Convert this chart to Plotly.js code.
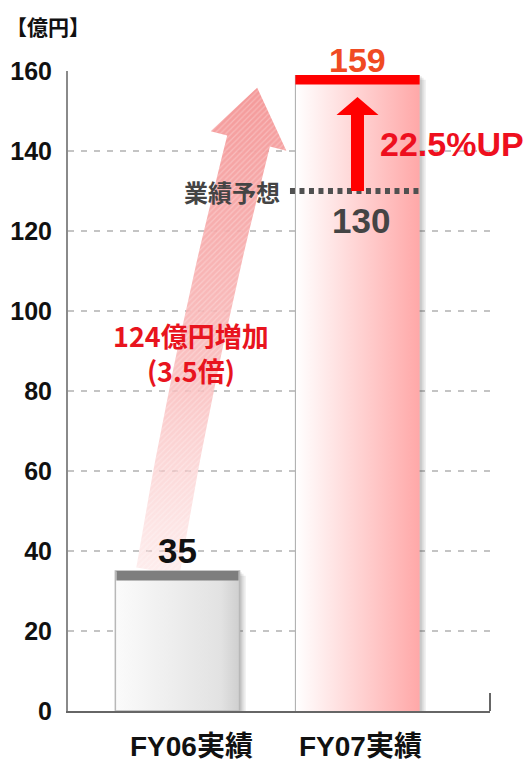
<!DOCTYPE html>
<html>
<head>
<meta charset="utf-8">
<script src="https://cdn.plot.ly/plotly-3.0.1.min.js"></script>
<style>
  html, body { margin: 0; padding: 0; background: #ffffff; }
  #chart { width: 528px; height: 763px; }
</style>
</head>
<body>
<div id="chart"></div>
<script>
// ---- data (億円) ----
const categories = ['FY06実績', 'FY07実績'];
const results = [35, 159];
const forecastFY07 = 130;
const yTicks = [0, 20, 40, 60, 80, 100, 120, 140, 160];
const unitLabel = '【億円】';
const forecastLabel = '業績予想';
const growthLabel = '22.5%UP';
const increaseLabel = '124億円増加';
const ratioLabel = '(3.5倍)';

// ---- styling / geometry ----
const NUM_FONT = '"Liberation Sans", Arial, sans-serif';
const JP_FONT = '"Noto Sans CJK JP", "Noto Sans", sans-serif';
const CAT_FONT = '"Liberation Sans", "Noto Sans CJK JP", sans-serif';
const X_RANGE = [-0.608, 1.736];
const Y_RANGE = [0, 160];
const PLOT_W = 422, PLOT_H = 640;
const PX_X = PLOT_W / (X_RANGE[1] - X_RANGE[0]);   // pixels per x unit
const PX_Y = PLOT_H / (Y_RANGE[1] - Y_RANGE[0]);   // pixels per value unit
const BAR_W = 0.69;
const CAP_H = 2.4;

const xs = categories.map((c, i) => i);

function rect(x0, x1, y0, y1) {
  return { x: [x0, x1, x1, x0, x0], y: [y0, y0, y1, y1, y0] };
}
function poly(pts) {
  const p = pts.concat([pts[0]]);
  return { x: p.map(q => q[0]), y: p.map(q => q[1]) };
}
const toPx = p => [p[0] * PX_X, p[1] * PX_Y];
const fromPx = p => [p[0] / PX_X, p[1] / PX_Y];

const traces = [];

// soft drop shadows behind the bars
[[0.034, -1.2, 0.10], [0.022, -0.7, 0.10], [0.012, -0.3, 0.10]].forEach(([dx, dy, a]) => {
  xs.forEach((x, i) => {
    const r = rect(x - BAR_W / 2 + dx, x + BAR_W / 2 + dx, 0, results[i] + dy);
    traces.push({ type: 'scatter', mode: 'lines', x: r.x, y: r.y, fill: 'toself',
      fillcolor: `rgba(60,60,60,${a})`, line: { width: 0 }, hoverinfo: 'skip' });
  });
});

// curved growth arrow from FY06 to FY07
(function () {
  const S = toPx([-0.108, results[0]]);
  const E = toPx([0.395, results[1] - 16.5]);
  const C = toPx([0.09, (results[0] + results[1] - 16.5) / 2]);
  const hw = 22, hh = 39, headLen = 55;
  const left = [], right = [];
  const N = 24;
  let n = [1, 0], t = [0, 1];
  for (let k = 0; k <= N; k++) {
    const s = k / N, u = 1 - s;
    const P = [u * u * S[0] + 2 * u * s * C[0] + s * s * E[0], u * u * S[1] + 2 * u * s * C[1] + s * s * E[1]];
    const d = [2 * u * (C[0] - S[0]) + 2 * s * (E[0] - C[0]), 2 * u * (C[1] - S[1]) + 2 * s * (E[1] - C[1])];
    const L = Math.hypot(d[0], d[1]);
    t = [d[0] / L, d[1] / L];
    n = [t[1], -t[0]];
    left.push([P[0] - hw * n[0], P[1] - hw * n[1]]);
    right.push([P[0] + hw * n[0], P[1] + hw * n[1]]);
  }
  const headL = [E[0] - hh * n[0], E[1] - hh * n[1]];
  const headR = [E[0] + hh * n[0], E[1] + hh * n[1]];
  const tip = [E[0] + headLen * t[0] - 5, E[1] + headLen * t[1]];
  const pts = left.concat([headL, tip, headR]).concat(right.slice().reverse()).map(fromPx);
  const p = poly(pts);
  traces.push({ type: 'scatter', mode: 'lines', x: p.x, y: p.y, fill: 'toself',
    line: { width: 0 }, hoverinfo: 'skip',
    fillgradient: { type: 'vertical', colorscale: [
      [0, 'rgba(252,215,215,0.45)'], [0.4, 'rgba(249,185,185,0.85)'], [1, 'rgba(244,150,150,0.97)']] } });
  traces.push({ type: 'scatter', mode: 'lines', x: p.x, y: p.y, fill: 'toself',
    fillcolor: 'rgba(0,0,0,0)', line: { width: 0 }, hoverinfo: 'skip',
    fillpattern: { shape: '/', fgcolor: 'rgba(255,255,255,0.28)', bgcolor: 'rgba(0,0,0,0)', size: 4, solidity: 0.3 } });
})();

// FY06 bar
(function () {
  const x = xs[0], v = results[0];
  const r = rect(x - BAR_W / 2, x + BAR_W / 2, 0, v);
  traces.push({ type: 'scatter', mode: 'lines', x: r.x, y: r.y, fill: 'toself',
    line: { color: '#b8b8b8', width: 1.5 }, hoverinfo: 'skip',
    fillgradient: { type: 'horizontal', colorscale: [[0, '#fbfbfb'], [0.85, '#e2e2e2'], [1, '#cfcfcf']] } });
  const c = rect(x - BAR_W / 2 + 0.006, x + BAR_W / 2 - 0.006, v - CAP_H, v);
  traces.push({ type: 'scatter', mode: 'lines', x: c.x, y: c.y, fill: 'toself',
    fillcolor: '#7e7e7e', line: { width: 0 }, hoverinfo: 'skip' });
})();

// FY07 bar
(function () {
  const x = xs[1], v = results[1];
  const r = rect(x - BAR_W / 2, x + BAR_W / 2, 0, v);
  traces.push({ type: 'scatter', mode: 'lines', x: r.x, y: r.y, fill: 'toself',
    line: { width: 0 }, hoverinfo: 'skip',
    fillgradient: { type: 'horizontal', colorscale: [[0, '#ffffff'], [1, '#ffa8a8']] } });
  traces.push({ type: 'scatter', mode: 'lines', x: [x - BAR_W / 2, x - BAR_W / 2], y: [0, v],
    line: { color: '#a8a8a8', width: 1 }, hoverinfo: 'skip' });
  const c = rect(x - BAR_W / 2, x + BAR_W / 2, v - CAP_H, v);
  traces.push({ type: 'scatter', mode: 'lines', x: c.x, y: c.y, fill: 'toself',
    fillcolor: '#ff0000', line: { width: 0 }, hoverinfo: 'skip' });
})();

// forecast marker line
const fcStart = xs[1] - BAR_W / 2 - 0.03, fcEnd = xs[1] + BAR_W / 2;
traces.push({ type: 'scatter', mode: 'lines', x: [fcStart, fcEnd], y: [forecastFY07, forecastFY07],
  line: { color: '#505050', width: 6, dash: '5px,4.5px' }, hoverinfo: 'skip' });

// red arrow: forecast → result
(function () {
  const x = xs[1];
  const sw = 6.5 / PX_X, hwid = 21 / PX_X;
  const base = results[1] - 10, tipY = results[1] - 5.5;
  const p = poly([[x - sw, forecastFY07], [x - sw, base], [x - hwid, base], [x, tipY],
    [x + hwid, base], [x + sw, base], [x + sw, forecastFY07]]);
  traces.push({ type: 'scatter', mode: 'lines', x: p.x, y: p.y, fill: 'toself',
    fillcolor: '#ff0000', line: { width: 0 }, hoverinfo: 'skip' });
})();

const annotations = [
  { text: unitLabel, xref: 'paper', yref: 'paper', x: -0.047, y: 1.0703, xanchor: 'center', yanchor: 'middle',
    showarrow: false, font: { family: JP_FONT, size: 21, color: '#111111', weight: 'bold' } },
  { text: String(results[1]), xref: 'x', yref: 'y', x: xs[1], y: results[1], yshift: 15,
    xanchor: 'center', yanchor: 'middle', showarrow: false,
    font: { family: NUM_FONT, size: 34, color: '#f04a22', weight: 'bold' } },
  { text: String(results[0]), xref: 'x', yref: 'y', x: xs[0], y: results[0], yshift: 21,
    xanchor: 'center', yanchor: 'middle', showarrow: false,
    font: { family: NUM_FONT, size: 35, color: '#111111', weight: 'bold' } },
  { text: String(forecastFY07), xref: 'x', yref: 'y', x: xs[1], y: forecastFY07, xshift: 4, yshift: -29,
    xanchor: 'center', yanchor: 'middle', showarrow: false,
    font: { family: NUM_FONT, size: 35, color: '#444444', weight: 'bold' } },
  { text: forecastLabel, xref: 'x', yref: 'y', x: fcStart, y: forecastFY07, xshift: -8,
    xanchor: 'right', yanchor: 'middle', showarrow: false,
    font: { family: JP_FONT, size: 24, color: '#444444', weight: 'bold' } },
  { text: growthLabel, xref: 'x', yref: 'y', x: xs[1], y: 141.75, xshift: 21,
    xanchor: 'left', yanchor: 'middle', showarrow: false,
    font: { family: NUM_FONT, size: 34, color: '#ee0f1e', weight: 'bold' } },
  { text: increaseLabel + '<br>' + ratioLabel, xref: 'x', yref: 'y', x: 0.075, y: 89.5,
    xanchor: 'center', yanchor: 'middle', align: 'center', showarrow: false,
    font: { family: JP_FONT, size: 27, color: '#e8141e', weight: 'bold' } }
];
categories.forEach((c, i) => {
  annotations.push({ text: c, xref: 'x', yref: 'paper', x: xs[i], xshift: i === 0 ? 14 : 3, y: -0.056,
    xanchor: 'center', yanchor: 'middle', showarrow: false, borderpad: 0,
    font: { family: CAT_FONT, size: 28, color: '#111111', weight: 'bold' } });
});

const layout = {
  width: 528, height: 763,
  margin: { l: 68, r: 38, t: 71, b: 52, pad: 0 },
  paper_bgcolor: '#ffffff', plot_bgcolor: '#ffffff',
  showlegend: false, hovermode: false,
  xaxis: { range: X_RANGE, fixedrange: true, showgrid: false, zeroline: false,
    showticklabels: false, ticks: '', showline: true, linecolor: '#666666', linewidth: 2 },
  yaxis: { range: Y_RANGE, fixedrange: true, tickmode: 'array', tickvals: yTicks,
    ticktext: yTicks.map(String), showgrid: true, gridcolor: '#c4c4c4', gridwidth: 1.5,
    griddash: '6px,7px', zeroline: false, showline: true, linecolor: '#8a8a8a', linewidth: 2,
    ticks: '', ticklabelstandoff: 9,
    tickfont: { family: NUM_FONT, size: 25, color: '#111111', weight: 'bold' } },
  shapes: [
    { type: 'line', xref: 'paper', yref: 'paper', x0: 1, x1: 1, y0: 0, y1: 0.028,
      line: { color: '#666666', width: 2 } }
  ],
  annotations: annotations
};

Plotly.newPlot('chart', traces, layout, { displayModeBar: false, staticPlot: true });
</script>
</body>
</html>
